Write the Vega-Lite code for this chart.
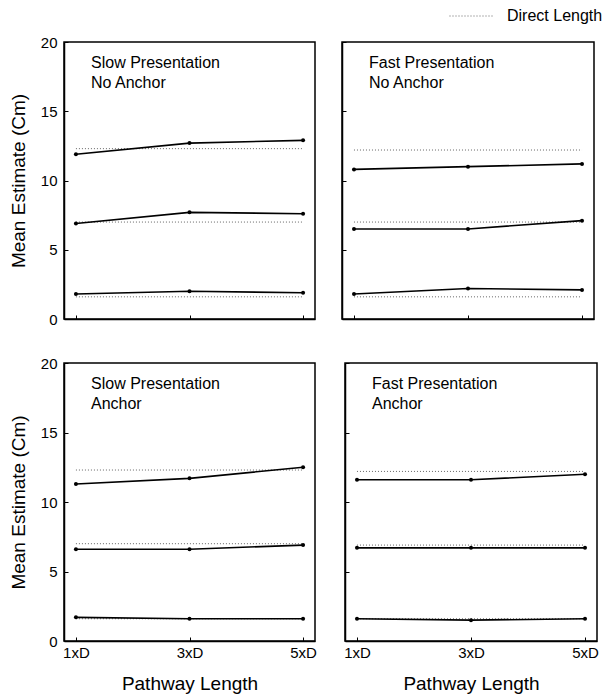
{
  "$schema": "https://vega.github.io/schema/vega-lite/v6.json",
  "padding": {"left": 8, "top": 8, "right": 5, "bottom": 0},
  "background": "white",
  "datasets": {
    "est": [
      {"panel": "SN", "level": "L", "pathway": 1, "estimate": 11.9},
      {"panel": "SN", "level": "L", "pathway": 3, "estimate": 12.7},
      {"panel": "SN", "level": "L", "pathway": 5, "estimate": 12.9},
      {"panel": "SN", "level": "M", "pathway": 1, "estimate": 6.9},
      {"panel": "SN", "level": "M", "pathway": 3, "estimate": 7.7},
      {"panel": "SN", "level": "M", "pathway": 5, "estimate": 7.6},
      {"panel": "SN", "level": "S", "pathway": 1, "estimate": 1.8},
      {"panel": "SN", "level": "S", "pathway": 3, "estimate": 2.0},
      {"panel": "SN", "level": "S", "pathway": 5, "estimate": 1.9},
      {"panel": "FN", "level": "L", "pathway": 1, "estimate": 10.8},
      {"panel": "FN", "level": "L", "pathway": 3, "estimate": 11.0},
      {"panel": "FN", "level": "L", "pathway": 5, "estimate": 11.2},
      {"panel": "FN", "level": "M", "pathway": 1, "estimate": 6.5},
      {"panel": "FN", "level": "M", "pathway": 3, "estimate": 6.5},
      {"panel": "FN", "level": "M", "pathway": 5, "estimate": 7.1},
      {"panel": "FN", "level": "S", "pathway": 1, "estimate": 1.8},
      {"panel": "FN", "level": "S", "pathway": 3, "estimate": 2.2},
      {"panel": "FN", "level": "S", "pathway": 5, "estimate": 2.1},
      {"panel": "SA", "level": "L", "pathway": 1, "estimate": 11.3},
      {"panel": "SA", "level": "L", "pathway": 3, "estimate": 11.7},
      {"panel": "SA", "level": "L", "pathway": 5, "estimate": 12.5},
      {"panel": "SA", "level": "M", "pathway": 1, "estimate": 6.6},
      {"panel": "SA", "level": "M", "pathway": 3, "estimate": 6.6},
      {"panel": "SA", "level": "M", "pathway": 5, "estimate": 6.9},
      {"panel": "SA", "level": "S", "pathway": 1, "estimate": 1.7},
      {"panel": "SA", "level": "S", "pathway": 3, "estimate": 1.6},
      {"panel": "SA", "level": "S", "pathway": 5, "estimate": 1.6},
      {"panel": "FA", "level": "L", "pathway": 1, "estimate": 11.6},
      {"panel": "FA", "level": "L", "pathway": 3, "estimate": 11.6},
      {"panel": "FA", "level": "L", "pathway": 5, "estimate": 12.0},
      {"panel": "FA", "level": "M", "pathway": 1, "estimate": 6.7},
      {"panel": "FA", "level": "M", "pathway": 3, "estimate": 6.7},
      {"panel": "FA", "level": "M", "pathway": 5, "estimate": 6.7},
      {"panel": "FA", "level": "S", "pathway": 1, "estimate": 1.6},
      {"panel": "FA", "level": "S", "pathway": 3, "estimate": 1.5},
      {"panel": "FA", "level": "S", "pathway": 5, "estimate": 1.6}
    ],
    "direct": [
      {"panel": "SN", "level": "L", "pathway": 1, "length": 12.3, "kind": "Direct Length"},
      {"panel": "SN", "level": "L", "pathway": 5, "length": 12.3, "kind": "Direct Length"},
      {"panel": "SN", "level": "M", "pathway": 1, "length": 7.0, "kind": "Direct Length"},
      {"panel": "SN", "level": "M", "pathway": 5, "length": 7.0, "kind": "Direct Length"},
      {"panel": "SN", "level": "S", "pathway": 1, "length": 1.6, "kind": "Direct Length"},
      {"panel": "SN", "level": "S", "pathway": 5, "length": 1.6, "kind": "Direct Length"},
      {"panel": "FN", "level": "L", "pathway": 1, "length": 12.2, "kind": "Direct Length"},
      {"panel": "FN", "level": "L", "pathway": 5, "length": 12.2, "kind": "Direct Length"},
      {"panel": "FN", "level": "M", "pathway": 1, "length": 7.0, "kind": "Direct Length"},
      {"panel": "FN", "level": "M", "pathway": 5, "length": 7.0, "kind": "Direct Length"},
      {"panel": "FN", "level": "S", "pathway": 1, "length": 1.6, "kind": "Direct Length"},
      {"panel": "FN", "level": "S", "pathway": 5, "length": 1.6, "kind": "Direct Length"},
      {"panel": "SA", "level": "L", "pathway": 1, "length": 12.3, "kind": "Direct Length"},
      {"panel": "SA", "level": "L", "pathway": 5, "length": 12.3, "kind": "Direct Length"},
      {"panel": "SA", "level": "M", "pathway": 1, "length": 7.0, "kind": "Direct Length"},
      {"panel": "SA", "level": "M", "pathway": 5, "length": 7.0, "kind": "Direct Length"},
      {"panel": "SA", "level": "S", "pathway": 1, "length": 1.6, "kind": "Direct Length"},
      {"panel": "SA", "level": "S", "pathway": 5, "length": 1.6, "kind": "Direct Length"},
      {"panel": "FA", "level": "L", "pathway": 1, "length": 12.2, "kind": "Direct Length"},
      {"panel": "FA", "level": "L", "pathway": 5, "length": 12.2, "kind": "Direct Length"},
      {"panel": "FA", "level": "M", "pathway": 1, "length": 6.9, "kind": "Direct Length"},
      {"panel": "FA", "level": "M", "pathway": 5, "length": 6.9, "kind": "Direct Length"},
      {"panel": "FA", "level": "S", "pathway": 1, "length": 1.6, "kind": "Direct Length"},
      {"panel": "FA", "level": "S", "pathway": 5, "length": 1.6, "kind": "Direct Length"}
    ]
  },
  "spacing": 27,
  "vconcat": [
    {
      "spacing": 24,
      "hconcat": [
        {
          "width": 251, "height": 277,
          "title": {"text": ["Slow Presentation", "No Anchor"], "offset": -56},
          "layer": [
            {
              "data": {"name": "direct"},
              "transform": [{"filter": "datum.panel == 'SN'"}],
              "mark": {"type": "line", "strokeWidth": 1, "color": "#666"},
              "encoding": {
                "x": {"field": "pathway", "type": "quantitative", "scale": {"domain": [0.79, 5.21], "nice": false, "zero": false}, "axis": {"values": [1, 3, 5], "labels": false, "title": null}},
                "y": {"field": "length", "type": "quantitative", "scale": {"domain": [0, 20], "nice": false}, "axis": {"values": [0, 2.5, 5, 7.5, 10, 12.5, 15, 17.5, 20], "labelExpr": "datum.value % 5 === 0 ? datum.label : ''", "title": "Mean Estimate (Cm)"}},
                "detail": {"field": "level"},
                "strokeDash": {"field": "kind", "type": "nominal", "scale": {"domain": ["Direct Length"], "range": [[1, 2]]}, "legend": {"title": null, "orient": "none", "legendX": 385, "legendY": -34}}
              }
            },
            {
              "data": {"name": "est"},
              "transform": [{"filter": "datum.panel == 'SN'"}],
              "mark": {"type": "line", "strokeWidth": 1.6, "color": "black", "point": {"filled": true, "size": 16, "color": "black"}},
              "encoding": {
                "x": {"field": "pathway", "type": "quantitative"},
                "y": {"field": "estimate", "type": "quantitative"},
                "detail": {"field": "level"}
              }
            }
          ]
        },
        {
          "width": 252, "height": 277,
          "title": {"text": ["Fast Presentation", "No Anchor"], "offset": -49},
          "layer": [
            {
              "data": {"name": "direct"},
              "transform": [{"filter": "datum.panel == 'FN'"}],
              "mark": {"type": "line", "strokeWidth": 1, "color": "#666"},
              "encoding": {
                "x": {"field": "pathway", "type": "quantitative", "scale": {"domain": [0.79, 5.21], "nice": false, "zero": false}, "axis": {"values": [1, 3, 5], "labels": false, "title": null}},
                "y": {"field": "length", "type": "quantitative", "scale": {"domain": [0, 20], "nice": false}, "axis": {"values": [0, 2.5, 5, 7.5, 10, 12.5, 15, 17.5, 20], "labels": false, "title": null}},
                "detail": {"field": "level"},
                "strokeDash": {"field": "kind", "type": "nominal", "scale": {"domain": ["Direct Length"], "range": [[1, 2]]}, "legend": null}
              }
            },
            {
              "data": {"name": "est"},
              "transform": [{"filter": "datum.panel == 'FN'"}],
              "mark": {"type": "line", "strokeWidth": 1.6, "color": "black", "point": {"filled": true, "size": 16, "color": "black"}},
              "encoding": {
                "x": {"field": "pathway", "type": "quantitative"},
                "y": {"field": "estimate", "type": "quantitative"},
                "detail": {"field": "level"}
              }
            }
          ]
        }
      ]
    },
    {
      "spacing": 24,
      "hconcat": [
        {
          "width": 251, "height": 278,
          "title": {"text": ["Slow Presentation", "Anchor"], "offset": -56},
          "layer": [
            {
              "data": {"name": "direct"},
              "transform": [{"filter": "datum.panel == 'SA'"}],
              "mark": {"type": "line", "strokeWidth": 1, "color": "#666"},
              "encoding": {
                "x": {"field": "pathway", "type": "quantitative", "scale": {"domain": [0.79, 5.21], "nice": false, "zero": false}, "axis": {"values": [1, 3, 5], "labelExpr": "datum.value + 'xD'", "title": "Pathway Length"}},
                "y": {"field": "length", "type": "quantitative", "scale": {"domain": [0, 20], "nice": false}, "axis": {"values": [0, 2.5, 5, 7.5, 10, 12.5, 15, 17.5, 20], "labelExpr": "datum.value % 5 === 0 ? datum.label : ''", "title": "Mean Estimate (Cm)"}},
                "detail": {"field": "level"},
                "strokeDash": {"field": "kind", "type": "nominal", "scale": {"domain": ["Direct Length"], "range": [[1, 2]]}, "legend": null}
              }
            },
            {
              "data": {"name": "est"},
              "transform": [{"filter": "datum.panel == 'SA'"}],
              "mark": {"type": "line", "strokeWidth": 1.6, "color": "black", "point": {"filled": true, "size": 16, "color": "black"}},
              "encoding": {
                "x": {"field": "pathway", "type": "quantitative"},
                "y": {"field": "estimate", "type": "quantitative"},
                "detail": {"field": "level"}
              }
            }
          ]
        },
        {
          "width": 252, "height": 278,
          "title": {"text": ["Fast Presentation", "Anchor"], "offset": -49},
          "layer": [
            {
              "data": {"name": "direct"},
              "transform": [{"filter": "datum.panel == 'FA'"}],
              "mark": {"type": "line", "strokeWidth": 1, "color": "#666"},
              "encoding": {
                "x": {"field": "pathway", "type": "quantitative", "scale": {"domain": [0.79, 5.21], "nice": false, "zero": false}, "axis": {"values": [1, 3, 5], "labelExpr": "datum.value + 'xD'", "title": "Pathway Length"}},
                "y": {"field": "length", "type": "quantitative", "scale": {"domain": [0, 20], "nice": false}, "axis": {"values": [0, 2.5, 5, 7.5, 10, 12.5, 15, 17.5, 20], "labels": false, "title": null}},
                "detail": {"field": "level"},
                "strokeDash": {"field": "kind", "type": "nominal", "scale": {"domain": ["Direct Length"], "range": [[1, 2]]}, "legend": null}
              }
            },
            {
              "data": {"name": "est"},
              "transform": [{"filter": "datum.panel == 'FA'"}],
              "mark": {"type": "line", "strokeWidth": 1.6, "color": "black", "point": {"filled": true, "size": 16, "color": "black"}},
              "encoding": {
                "x": {"field": "pathway", "type": "quantitative"},
                "y": {"field": "estimate", "type": "quantitative"},
                "detail": {"field": "level"}
              }
            }
          ]
        }
      ]
    }
  ],
  "config": {
    "font": "Liberation Sans",
    "view": {"stroke": "black", "strokeWidth": 1.5},
    "title": {"anchor": "start", "orient": "top", "frame": "group", "dx": 27, "fontSize": 16, "fontWeight": "normal", "lineHeight": 20, "color": "black"},
    "axis": {
      "grid": false,
      "domainColor": "black",
      "domainWidth": 1.5,
      "tickColor": "black",
      "tickSize": -4,
      "tickWidth": 1,
      "labelColor": "black",
      "labelFontSize": 15,
      "labelPadding": 11,
      "titleColor": "black",
      "titleFontSize": 19,
      "titleFontWeight": "normal"
    },
    "axisY": {"titlePadding": 12},
    "axisX": {"titlePadding": 14, "labelPadding": 8, "labelFlush": false},
    "legend": {"labelFontSize": 16, "labelColor": "black", "symbolType": "stroke", "symbolSize": 2025, "clipHeight": 16, "symbolStrokeColor": "#666", "symbolStrokeWidth": 1, "labelOffset": 12}
  }
}
